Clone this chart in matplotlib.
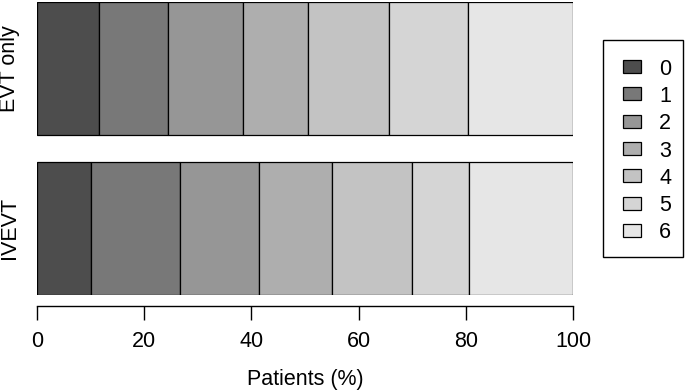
import matplotlib
matplotlib.use("Agg")
import matplotlib.pyplot as plt
from matplotlib.patches import Rectangle
import numpy as np

plt.rcParams['font.family'] = ['Liberation Sans', 'DejaVu Sans']

groups = ["IVEVT", "EVT only"]
scores = ["0", "1", "2", "3", "4", "5", "6"]
# percentage of patients per mRS score, per group
ivevt = [10.1, 16.6, 14.7, 13.6, 15.0, 10.6, 19.4]
evt_only = [11.5, 13.0, 14.0, 12.0, 15.1, 14.9, 19.5]
colors = ["#4D4D4D", "#787878", "#969696", "#AEAEAE", "#C3C3C3", "#D5D5D5", "#E6E6E6"]
xticks = [0, 20, 40, 60, 80, 100]

W, H = 685, 391
FS = 15.5
data = np.array([ivevt, evt_only])
ypos = np.array([0.7, 1.9])

fig = plt.figure(figsize=(W/100, H/100), dpi=100)
ax = fig.add_axes([37/W, 1-295/H, (573-37)/W, (295-2)/H])

left = np.zeros(2)
for i, s in enumerate(scores):
    ax.barh(ypos, data[:, i], left=left, height=1.0, color=colors[i],
            edgecolor="black", linewidth=0.9, label=s)
    left += data[:, i]

ax.set_xlim(0, 100)
ax.set_ylim(0.2, 2.4)
for sp in ["top", "right", "left"]:
    ax.spines[sp].set_visible(False)
ax.spines["bottom"].set_position(("outward", 8))
ax.spines["bottom"].set_linewidth(1.0)
ax.set_xticks(xticks)
ax.set_xticklabels([str(t) for t in xticks], fontsize=FS)
ax.tick_params(axis="x", length=10, width=1.0, pad=8)
ax.set_yticks(ypos)
ax.set_yticklabels(groups, rotation=90, va="center", fontsize=FS)
ax.tick_params(axis="y", length=0, pad=12)
ax.set_xlabel("Patients (%)", fontsize=FS, labelpad=12)

# legend box (drawn in figure pixel fractions)
def fx(px):
    return px / W

def fy(py):
    return 1 - py / H

frame = Rectangle((fx(603), fy(257)), fx(683) - fx(603), fy(40) - fy(257),
                  transform=fig.transFigure, facecolor="white",
                  edgecolor="black", linewidth=1.0)
fig.patches.append(frame)
for i, s in enumerate(scores):
    cy = 66.7 + 27.3 * i
    sq = Rectangle((fx(623), fy(cy + 6.5)), fx(641) - fx(623), 13 / H,
                   transform=fig.transFigure, facecolor=colors[i],
                   edgecolor="black", linewidth=0.9)
    fig.patches.append(sq)
    fig.text(fx(659), fy(cy), s, fontsize=FS, ha="left", va="center_baseline")

fig.savefig("out.png", dpi=100)
